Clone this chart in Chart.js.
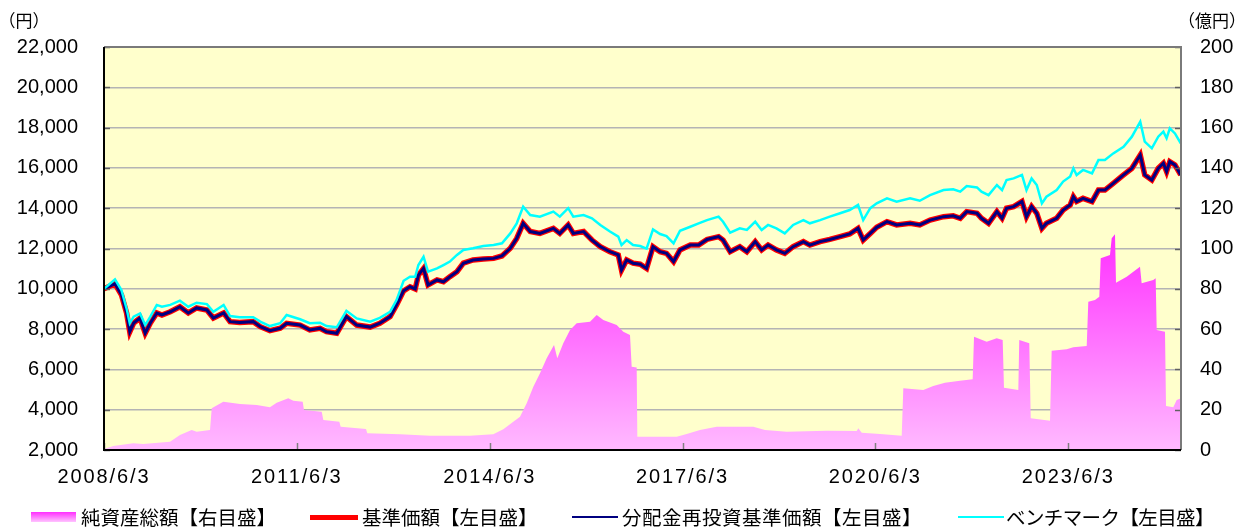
<!DOCTYPE html>
<html><head><meta charset="utf-8">
<script src="https://cdn.jsdelivr.net/npm/chart.js@4.4.1/dist/chart.umd.min.js"></script>
<style>
body{margin:0;background:#fff;}
#wrap{position:relative;width:1253px;height:531px;overflow:hidden;}
canvas{position:absolute;left:0;top:0;}
.t{position:absolute;font-family:"Noto Sans CJK JP";color:#000;white-space:nowrap;line-height:20px;font-size:19.5px;}
.u{position:absolute;font-family:"Noto Sans CJK JP";color:#000;white-space:nowrap;font-size:17px;line-height:20px;transform:translate(-50%,-50%);}
.sw{position:absolute;}
</style></head><body>
<div id="wrap">
<canvas id="c" width="1253" height="531"></canvas>
<div class="u" style="left:24px;top:20px">（円）</div>
<div class="u" style="left:1212px;top:20px">（億円）</div>
<div class="sw" style="left:31px;top:512px;width:45px;height:10px;background:linear-gradient(to bottom,#ff2dff,#ffc4ff);"></div>
<div class="t" style="left:81px;top:507px">純資産総額【右目盛】</div>
<div class="sw" style="left:310px;top:515px;width:48px;height:5px;background:#ff0000;"></div>
<div class="t" style="left:362px;top:507px">基準価額【左目盛】</div>
<div class="sw" style="left:572px;top:516px;width:46px;height:2px;background:#000080;"></div>
<div class="t" style="left:622px;top:507px;letter-spacing:0.5px">分配金再投資基準価額【左目盛】</div>
<div class="sw" style="left:958px;top:516px;width:46px;height:2px;background:#00ffff;"></div>
<div class="t" style="left:1006px;top:507px;letter-spacing:-0.6px">ベンチマーク【左目盛】</div>
</div>
<script>
// ---- data ----
// x tick positions (decimal years) and their labels
const tickYears = [2008.419, 2011.419, 2014.419, 2017.419, 2020.419, 2023.419];
const tickLabels = ['2008/6/3', '2011/6/3', '2014/6/3', '2017/6/3', '2020/6/3', '2023/6/3'];
const xMin = 2008.419, xMax = 2025.174;

// dates (decimal years) for the price series
const priceDates = [2008.42, 2008.59, 2008.69, 2008.77, 2008.82, 2008.88, 2008.98, 2009.06, 2009.14, 2009.24,
 2009.32, 2009.45, 2009.60, 2009.73, 2009.86, 2010.02, 2010.12, 2010.28, 2010.38, 2010.53,
 2010.74, 2010.85, 2011.00, 2011.16, 2011.26, 2011.47, 2011.62, 2011.78, 2011.88, 2012.04,
 2012.19, 2012.35, 2012.56, 2012.71, 2012.87, 2012.97, 2013.08, 2013.18, 2013.26, 2013.31,
 2013.39, 2013.46, 2013.60, 2013.70, 2013.80, 2013.91, 2014.01, 2014.16, 2014.32, 2014.48,
 2014.61, 2014.74, 2014.84, 2014.94, 2015.05, 2015.20, 2015.41, 2015.51, 2015.64, 2015.72,
 2015.88, 2016.01, 2016.14, 2016.29, 2016.42, 2016.47, 2016.55, 2016.65, 2016.76, 2016.86,
 2016.96, 2017.07, 2017.17, 2017.28, 2017.38, 2017.54, 2017.67, 2017.80, 2017.98, 2018.05,
 2018.16, 2018.31, 2018.42, 2018.55, 2018.65, 2018.75, 2018.88, 2019.01, 2019.14, 2019.30,
 2019.40, 2019.56, 2019.71, 2019.87, 2020.02, 2020.15, 2020.23, 2020.34, 2020.44, 2020.60,
 2020.75, 2020.96, 2021.11, 2021.27, 2021.48, 2021.63, 2021.74, 2021.84, 2022.00, 2022.07,
 2022.18, 2022.31, 2022.39, 2022.46, 2022.57, 2022.70, 2022.77, 2022.85, 2022.93, 2023.01,
 2023.08, 2023.24, 2023.34, 2023.45, 2023.50, 2023.55, 2023.65, 2023.79, 2023.89, 2023.99,
 2024.12, 2024.28, 2024.41, 2024.54, 2024.61, 2024.72, 2024.82, 2024.90, 2024.95, 2025.00,
 2025.08, 2025.17];

// 基準価額 (yen)
const navValues = [10000, 10250, 9700, 8800, 7870, 8300, 8550, 7800, 8300, 8800,
 8700, 8860, 9110, 8800, 9050, 8950, 8550, 8800, 8370, 8330,
 8370, 8120, 7920, 8040, 8290, 8200, 7960, 8040, 7870, 7790,
 8620, 8200, 8100, 8290, 8620, 9200, 9900, 10100, 9990, 10680,
 11010, 10190, 10440, 10350, 10600, 10850, 11270, 11430, 11480, 11510,
 11630, 12010, 12500, 13250, 12840, 12750, 13000, 12750, 13170, 12750,
 12840, 12420, 12090, 11840, 11680, 10930, 11430, 11270, 11220, 11010,
 12090, 11840, 11760, 11350, 11930, 12170, 12170, 12450, 12590, 12420,
 11840, 12090, 11840, 12340, 11930, 12170, 11930, 11760, 12090, 12340,
 12170, 12340, 12450, 12590, 12720, 13000, 12420, 12750, 13050, 13330,
 13170, 13250, 13170, 13410, 13580, 13620, 13500, 13830, 13750, 13500,
 13250, 13830, 13500, 14000, 14080, 14330, 13580, 14080, 13750, 13000,
 13250, 13500, 13910, 14160, 14570, 14330, 14490, 14330, 14900, 14900,
 15230, 15650, 15980, 16640, 15650, 15400, 15980, 16230, 15820, 16310,
 16150, 15650];

// 分配金再投資基準価額 (yen) - coincides with 基準価額 in the reference
const reinvestValues = [10000, 10250, 9700, 8800, 7870, 8300, 8550, 7800, 8300, 8800,
 8700, 8860, 9110, 8800, 9050, 8950, 8550, 8800, 8370, 8330,
 8370, 8120, 7920, 8040, 8290, 8200, 7960, 8040, 7870, 7790,
 8620, 8200, 8100, 8290, 8620, 9200, 9900, 10100, 9990, 10680,
 11010, 10190, 10440, 10350, 10600, 10850, 11270, 11430, 11480, 11510,
 11630, 12010, 12500, 13250, 12840, 12750, 13000, 12750, 13170, 12750,
 12840, 12420, 12090, 11840, 11680, 10930, 11430, 11270, 11220, 11010,
 12090, 11840, 11760, 11350, 11930, 12170, 12170, 12450, 12590, 12420,
 11840, 12090, 11840, 12340, 11930, 12170, 11930, 11760, 12090, 12340,
 12170, 12340, 12450, 12590, 12720, 13000, 12420, 12750, 13050, 13330,
 13170, 13250, 13170, 13410, 13580, 13620, 13500, 13830, 13750, 13500,
 13250, 13830, 13500, 14000, 14080, 14330, 13580, 14080, 13750, 13000,
 13250, 13500, 13910, 14160, 14570, 14330, 14490, 14330, 14900, 14900,
 15230, 15650, 15980, 16640, 15650, 15400, 15980, 16230, 15820, 16310,
 16150, 15650];

// ベンチマーク (yen)
const benchValues = [10000, 10470, 9940, 9030, 8290, 8620, 8780, 8200, 8620, 9200,
 9110, 9200, 9410, 9110, 9310, 9240, 8860, 9200, 8650, 8590,
 8590, 8370, 8150, 8290, 8700, 8490, 8290, 8320, 8150, 8090,
 8910, 8530, 8370, 8560, 8860, 9440, 10400, 10600, 10600, 11180,
 11590, 10850, 11010, 11180, 11350, 11680, 11930, 12010, 12120, 12170,
 12260, 12750, 13250, 14080, 13660, 13580, 13830, 13580, 14000, 13580,
 13660, 13500, 13170, 12840, 12590, 12170, 12420, 12170, 12120, 11990,
 12950, 12720, 12620, 12260, 12880, 13080, 13250, 13410, 13580, 13330,
 12790, 13000, 12920, 13330, 12920, 13170, 13000, 12750, 13170, 13410,
 13250, 13410, 13580, 13750, 13910, 14160, 13410, 14000, 14240, 14490,
 14320, 14490, 14370, 14650, 14900, 14940, 14820, 15100, 15030, 14820,
 14650, 15150, 14900, 15400, 15480, 15650, 14900, 15480, 15150, 14240,
 14570, 14900, 15320, 15570, 15980, 15650, 15900, 15730, 16390, 16390,
 16720, 17050, 17550, 18290, 17300, 16970, 17550, 17800, 17470, 17960,
 17710, 17220];

// 純資産総額 (億円)
const assetDates = [2008.419, 2008.564, 2008.875, 2009.030, 2009.446, 2009.601, 2009.783, 2009.861, 2010.068, 2010.095,
 2010.275, 2010.535, 2010.795, 2011.001, 2011.106, 2011.286, 2011.364, 2011.510, 2011.530, 2011.806,
 2011.831, 2012.080, 2012.101, 2012.495, 2012.515, 2013.024, 2013.491, 2014.113, 2014.475, 2014.631,
 2014.787, 2014.891, 2014.995, 2015.098, 2015.202, 2015.306, 2015.420, 2015.471, 2015.564, 2015.669,
 2015.773, 2015.980, 2016.084, 2016.187, 2016.395, 2016.498, 2016.602, 2016.628, 2016.706, 2016.716,
 2017.329, 2017.484, 2017.691, 2017.951, 2018.520, 2018.702, 2019.040, 2019.662, 2020.129, 2020.154,
 2020.207, 2020.491, 2020.829, 2020.854, 2021.165, 2021.320, 2021.502, 2021.736, 2021.933, 2021.954,
 2022.151, 2022.307, 2022.400, 2022.420, 2022.643, 2022.658, 2022.814, 2022.836, 2023.136, 2023.162,
 2023.396, 2023.498, 2023.707, 2023.732, 2023.836, 2023.903, 2023.925, 2024.069, 2024.096, 2024.147,
 2024.163, 2024.329, 2024.536, 2024.562, 2024.743, 2024.780, 2024.796, 2024.925, 2024.941, 2025.054,
 2025.107, 2025.174];
const assetValues = [0.5, 2.0, 3.3, 3.0, 4.1, 7.4, 9.9, 9.1, 9.9, 20.7,
 24.0, 22.8, 22.3, 21.2, 23.5, 25.7, 24.5, 24.0, 19.9, 19.0,
 14.9, 14.0, 11.6, 10.4, 8.3, 7.8, 7.1, 7.1, 7.8, 10.3,
 14.0, 16.5, 23.2, 31.4, 38.1, 45.5, 52.1, 45.5, 53.0, 59.6,
 62.9, 63.7, 67.0, 64.5, 62.0, 58.7, 57.1, 41.3, 41.0, 6.6,
 6.6, 7.9, 9.9, 11.6, 11.6, 9.9, 9.1, 9.6, 9.4, 10.8,
 8.6, 7.9, 7.1, 30.6, 29.8, 31.8, 33.4, 34.4, 35.1, 56.2,
 53.7, 55.4, 54.6, 30.9, 29.8, 54.6, 53.0, 15.7, 14.5, 49.3,
 50.0, 51.0, 51.6, 73.6, 74.4, 76.1, 95.1, 96.8, 105.1, 107.1,
 83.0, 86.0, 91.0, 82.7, 84.4, 85.2, 59.6, 58.7, 21.8, 21.2,
 24.8, 25.7];

if (priceDates.length !== navValues.length || priceDates.length !== benchValues.length ||
    priceDates.length !== reinvestValues.length || assetDates.length !== assetValues.length) {
  throw new Error('length mismatch ' + [priceDates.length, navValues.length, benchValues.length, assetDates.length, assetValues.length].join(','));
}

const pts = (xs, ys) => xs.map((x, i) => ({x: x, y: ys[i]}));

const framePlugin = {
  id: 'frame',
  afterLayout(chart) {
    // widen the x tick labels a little (reference font has wide slashes)
    const xs = chart.scales.x;
    if (xs && !xs._spaced) {
      const orig = xs.drawLabels;
      xs.drawLabels = function (area) {
        const c = this.ctx;
        const prev = c.letterSpacing;
        c.letterSpacing = '1.9px';
        orig.call(this, area);
        c.letterSpacing = prev || '0px';
      };
      xs._spaced = true;
    }
  },
  beforeDraw(chart) {
    const {ctx, chartArea: a} = chart;
    ctx.save();
    ctx.fillStyle = '#ffffcc';
    ctx.fillRect(a.left, a.top, a.right - a.left, a.bottom - a.top);
    ctx.restore();
  },
  afterDraw(chart) {
    const {ctx, chartArea: a, scales} = chart;
    ctx.save();
    ctx.strokeStyle = '#808080';
    ctx.lineWidth = 1.5;
    scales.x.ticks.forEach(t => {
      const px = Math.round(scales.x.getPixelForValue(t.value)) + 0.5;
      ctx.beginPath(); ctx.moveTo(px, a.bottom); ctx.lineTo(px, a.bottom - 7); ctx.stroke();
    });
    ctx.strokeStyle = '#606060';
    scales.y.ticks.forEach(t => {
      const py = Math.round(scales.y.getPixelForValue(t.value)) + 0.5;
      ctx.beginPath(); ctx.moveTo(a.left, py); ctx.lineTo(a.left + 6, py); ctx.stroke();
    });
    scales.y1.ticks.forEach(t => {
      const py = Math.round(scales.y1.getPixelForValue(t.value)) + 0.5;
      ctx.beginPath(); ctx.moveTo(a.right - 6, py); ctx.lineTo(a.right, py); ctx.stroke();
    });
    // frame
    ctx.lineWidth = 2;
    ctx.strokeStyle = '#7a7a7a';
    ctx.beginPath(); ctx.moveTo(a.left, a.top); ctx.lineTo(a.right, a.top); ctx.lineTo(a.right, a.bottom); ctx.stroke();
    ctx.strokeStyle = '#000000';
    ctx.beginPath(); ctx.moveTo(a.left, a.top); ctx.lineTo(a.left, a.bottom); ctx.lineTo(a.right, a.bottom); ctx.stroke();
    ctx.restore();
  }
};

const areaFill = (context) => {
  const chart = context.chart;
  const a = chart.chartArea;
  if (!a) return '#ffb8ff';
  const g = chart.ctx.createLinearGradient(0, a.bottom, 0, a.top);
  g.addColorStop(0, '#ffbaff');
  g.addColorStop(0.54, '#ff2dff');
  g.addColorStop(1, '#ff00ff');
  return g;
};

new Chart(document.getElementById('c'), {
  type: 'line',
  data: {
    datasets: [
      {label: '純資産総額【右目盛】', data: pts(assetDates, assetValues), yAxisID: 'y1',
       borderWidth: 0, borderColor: 'rgba(0,0,0,0)', backgroundColor: areaFill, fill: 'origin',
       pointRadius: 0, tension: 0, order: 4},
      {label: '基準価額【左目盛】', data: pts(priceDates, navValues), yAxisID: 'y',
       borderColor: '#ff0000', borderWidth: 5.5, pointRadius: 0, tension: 0, fill: false, order: 3},
      {label: '分配金再投資基準価額【左目盛】', data: pts(priceDates, reinvestValues), yAxisID: 'y',
       borderColor: '#000080', borderWidth: 3, pointRadius: 0, tension: 0, fill: false, order: 2},
      {label: 'ベンチマーク【左目盛】', data: pts(priceDates, benchValues), yAxisID: 'y',
       borderColor: '#00ffff', borderWidth: 2.5, pointRadius: 0, tension: 0, fill: false, order: 1}
    ]
  },
  options: {
    responsive: false,
    animation: false,
    events: [],
    layout: {padding: {top: 47, left: 0, right: 0, bottom: 0}},
    plugins: {legend: {display: false}, tooltip: {enabled: false}},
    scales: {
      x: {
        type: 'linear', min: xMin, max: xMax,
        grid: {display: false, drawTicks: false},
        border: {display: false},
        afterBuildTicks: (s) => { s.ticks = tickYears.map(v => ({value: v})); },
        afterFit: (s) => { s.height = 81; },
        ticks: {
          autoSkip: false, maxRotation: 0, padding: 15, color: '#000',
          font: {family: 'Liberation Sans', size: 20},
          callback: (v, i) => tickLabels[i]
        }
      },
      y: {
        position: 'left', min: 2000, max: 22000,
        grid: {color: '#b4b4b4', lineWidth: 1.5, drawTicks: false},
        border: {display: false},
        afterFit: (s) => { s.width = 104; },
        ticks: {
          stepSize: 2000, padding: 26, color: '#000',
          font: {family: 'Liberation Sans', size: 20},
          callback: (v) => v.toLocaleString('en-US')
        }
      },
      y1: {
        position: 'right', min: 0, max: 200,
        grid: {display: false, drawTicks: false},
        border: {display: false},
        afterFit: (s) => { s.width = 72; },
        ticks: {
          stepSize: 20, padding: 19, color: '#000',
          font: {family: 'Liberation Sans', size: 20}
        }
      }
    }
  },
  plugins: [framePlugin]
});
</script>
</body></html>
